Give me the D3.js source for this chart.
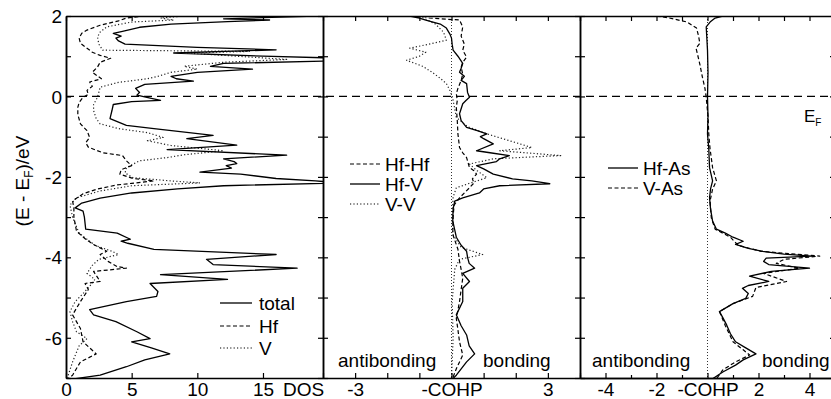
<!DOCTYPE html>
<html><head><meta charset="utf-8">
<script src="https://cdn.jsdelivr.net/npm/d3@7/dist/d3.min.js"></script>
<style>
html,body{margin:0;padding:0;background:#fff;}
svg{display:block;font-family:"Liberation Sans",Arial,sans-serif;}
</style></head><body>
<svg id="c" width="831" height="399"></svg>
<script>
// ---------- DATA ----------
// Panel 1: DOS
const totE = [2.0,1.96,1.93,1.9,1.86,1.8,1.72,1.62,1.57,1.5,1.45,1.38,1.3,1.22,1.16,1.08,1.0,0.95,0.88,0.82,0.75,0.68,0.6,0.5,0.44,0.38,0.3,0.2,0.1,0.03,-0.05,-0.1,-0.13,-0.2,-0.35,-0.55,-0.72,-0.8,-0.97,-1.05,-1.21,-1.32,-1.46,-1.55,-1.62,-1.67,-1.72,-1.78,-1.88,-1.93,-2.04,-2.1,-2.15,-2.22,-2.3,-2.4,-2.53,-2.65,-2.77,-2.85,-3.0,-3.3,-3.4,-3.55,-3.6,-3.65,-3.8,-3.93,-4.05,-4.18,-4.27,-4.43,-4.55,-4.65,-4.85,-4.97,-5.1,-5.3,-5.43,-5.6,-5.85,-6.02,-6.1,-6.25,-6.4,-6.55,-6.72,-6.93,-7.05];
const totDOS = [19,15,12,15.5,12.3,8,5.6,4.3,3.6,4.2,3.8,4.0,4.5,10,16,8.2,15,21,20,12,11,14.2,10,8,8.4,9.7,6,5.3,5.6,5.4,6.5,7.2,5,3.6,3.5,3.35,4.6,6.7,11.2,9.2,13,7.7,16.8,12,12.8,13,12.2,12.6,10.2,13.3,16,19,21,12,8.5,5,2.6,1.2,0.7,1.3,1.4,1.5,3.9,4.9,4.2,4.7,6.7,16,10.7,11.2,17.6,7.2,12.3,6.4,7,6.9,4.6,1.8,2.1,3.8,5.4,6.4,5.0,6.5,7.9,6,4.6,2.6,0];
const hfE = [2.0,1.95,1.88,1.77,1.65,1.57,1.45,1.32,1.2,1.1,1.02,0.95,0.85,0.73,0.6,0.44,0.36,0.25,0.15,0.05,-0.02,-0.15,-0.27,-0.45,-0.68,-0.85,-1.02,-1.15,-1.26,-1.4,-1.47,-1.6,-1.72,-1.82,-1.93,-2.04,-2.1,-2.16,-2.2,-2.3,-2.42,-2.6,-2.77,-3.0,-3.35,-3.55,-3.68,-3.85,-3.93,-4.1,-4.23,-4.27,-4.35,-4.5,-4.6,-4.65,-4.8,-5.1,-5.43,-5.77,-6.1,-6.4,-6.6,-6.93,-7.05];
const hfDOS = [6,4.6,4,2.6,1.6,1.2,1.0,1.1,1.6,2.0,2.6,3.4,2.6,2.4,2.0,2.7,1.8,2.0,1.6,1.7,1.3,1.0,0.9,0.9,1.1,1.6,1.8,1.5,1.7,2.8,4.3,4.6,5.0,4.2,4.1,5.1,6.7,5,3.9,2.4,1.3,0.5,0.6,0.6,0.8,1.5,2.1,3.1,2.6,3.2,3.9,4.6,2.1,2.4,2.6,1.45,1.7,1.1,0.5,1.1,1.3,2.3,1.1,0.5,0];
const vE = [2.0,1.95,1.9,1.85,1.73,1.6,1.48,1.3,1.15,1.12,1.08,1.0,0.92,0.85,0.75,0.68,0.6,0.5,0.44,0.35,0.23,0.1,-0.02,-0.2,-0.35,-0.55,-0.68,-0.8,-0.9,-1.02,-1.1,-1.22,-1.35,-1.45,-1.52,-1.6,-1.77,-1.9,-2.02,-2.1,-2.15,-2.22,-2.35,-2.52,-2.7,-3.0,-3.4,-3.7,-3.85,-3.93,-4.05,-4.2,-4.4,-4.55,-4.72,-4.9,-5.1,-5.35,-5.6,-5.85,-6.02,-6.2,-6.6,-7.0];
const vDOS = [9,7.2,8.2,5,3.1,2.6,2.4,2.5,2.8,14,9.2,13,16.8,12,9,10,8,7,6.2,4,2.6,2.5,2.4,2.1,2.1,2.3,2.6,4,6.2,7.4,6.2,8,12,9,7.7,5.6,4.6,4.5,5.1,8,10.2,5,2.6,0.8,0.3,0.5,1.0,2.2,3.5,4.0,2.5,2.0,1.6,2.2,1.8,1.3,0.7,0.3,0.5,0.8,1.6,1.0,0.5,0.1];

// Panel 2: -COHP Hf-Hf, Hf-V, V-V
const hfvE = [2.0,1.95,1.9,1.8,1.7,1.55,1.45,1.3,1.15,1.0,0.82,0.7,0.6,0.5,0.4,0.32,0.1,-0.02,-0.1,-0.18,-0.43,-0.6,-0.77,-0.85,-0.93,-1.0,-1.05,-1.18,-1.35,-1.4,-1.47,-1.55,-1.62,-1.72,-1.8,-1.93,-2.05,-2.1,-2.17,-2.22,-2.3,-2.4,-2.52,-2.6,-2.8,-3.1,-3.5,-3.7,-3.85,-4.0,-4.15,-4.27,-4.4,-4.6,-4.77,-5.1,-5.43,-5.7,-5.93,-6.2,-6.4,-6.6,-6.93,-7.05];
const hfvCOHP = [-1.3,-1.0,-0.8,-0.35,-0.16,-0.05,0,0.02,0.05,0.2,0.35,0.3,0.25,0.4,0.3,0.47,0.5,0.56,0.45,0.35,0.25,0.3,0.47,0.8,1.1,0.9,1.0,1.3,0.78,1.2,1.8,1.5,1.4,0.78,1.0,1.3,1.9,2.5,3.06,1.5,1.0,0.87,0.35,0.1,0.05,0.04,0.15,0.3,0.47,0.5,0.55,0.72,0.35,0.56,0.35,0.35,0.15,0.3,0.47,0.55,0.72,0.47,0.15,0];
const hfhfE = [2.0,1.95,1.9,1.73,1.5,1.3,1.15,0.98,0.85,0.73,0.55,0.4,0.2,0.07,-0.1,-0.27,-0.6,-0.93,-1.27,-1.4,-1.52,-1.77,-1.85,-1.93,-2.05,-2.15,-2.27,-2.52,-2.7,-3.0,-3.43,-3.8,-4.1,-4.3,-4.52,-4.8,-5.1,-5.52,-5.8,-6.1,-6.43,-6.6,-6.77,-7.0];
const hfhfCOHP = [-0.9,-0.7,0.25,0.35,0.3,0.4,0.35,0.47,0.35,0.3,0.35,0.3,0.2,0.15,0.18,0.15,0.18,0.2,0.25,0.35,0.47,0.56,0.7,0.78,0.65,0.7,0.56,0.25,0.08,0.05,0.04,0.2,0.25,0.3,0.35,0.3,0.25,0.15,0.2,0.25,0.35,0.25,0.15,0.04];
const vvE = [2.0,1.8,1.6,1.4,1.3,1.2,1.1,1.0,0.9,0.75,0.6,0.45,0.32,0.15,-0.02,-0.3,-0.52,-0.75,-0.93,-1.1,-1.27,-1.35,-1.47,-1.55,-1.68,-1.85,-2.02,-2.15,-2.27,-2.5,-3.0,-3.43,-3.75,-3.93,-4.05,-4.3,-5.1,-6.0,-7.0];
const vvCOHP = [-1.0,-0.5,-0.25,-0.16,-0.7,-1.3,-0.8,-1.0,-1.4,-0.9,-0.6,-0.35,-0.16,-0.05,0.03,0.1,0.15,0.5,1.1,1.8,2.5,1.5,3.4,1.3,0.56,0.8,1.1,0.6,0.15,0.05,0.02,0.04,0.3,0.97,0.25,0.1,0.02,0.05,0];

// Panel 3: -COHP Hf-As, V-As
const hfasE = [2.0,1.95,1.85,1.73,1.5,1.15,0.6,-0.02,-0.5,-0.93,-1.3,-1.77,-2.1,-2.3,-2.52,-2.8,-3.1,-3.3,-3.4,-3.5,-3.6,-3.68,-3.78,-3.85,-3.92,-3.97,-4.02,-4.1,-4.18,-4.27,-4.35,-4.47,-4.6,-4.7,-4.77,-4.9,-5.02,-5.15,-5.35,-5.5,-5.68,-5.9,-6.1,-6.25,-6.4,-6.55,-6.68,-6.85,-7.02];
const hfasCOHP = [0.6,0.3,0.1,-0.05,-0.03,0,0.02,0,0.02,0,0.05,0.08,0.2,0.12,0.08,0.12,0.2,0.35,0.7,1.0,1.4,1.1,1.6,2.16,3.0,4.1,2.3,2.2,2.4,4.0,2.5,1.65,2.4,1.6,1.37,1.6,1.5,1.0,0.47,0.6,0.75,0.9,1.1,1.5,1.9,1.4,1.1,0.6,0.2];
const vasE = [2.0,1.95,1.85,1.7,1.5,1.32,1.2,1.07,0.8,0.48,0.2,-0.02,-0.5,-0.93,-1.3,-1.77,-2.1,-2.3,-2.6,-3.02,-3.3,-3.5,-3.7,-3.85,-3.97,-4.05,-4.15,-4.27,-4.4,-4.6,-4.75,-4.97,-5.15,-5.35,-5.7,-6.1,-6.3,-6.43,-6.6,-6.8,-7.02];
const vasCOHP = [-2.0,-1.5,-0.8,-0.43,-0.35,-0.3,-0.45,-0.4,-0.3,-0.2,-0.1,-0.05,0.02,0.05,0.1,0.2,0.35,0.2,0.1,0.15,0.3,0.9,1.2,2.1,4.4,3.0,2.7,3.6,2.2,3.1,1.9,1.77,1.0,0.47,0.7,1.0,1.4,1.65,1.1,0.6,0.35];

// Axis ticks / labels
const yTicksMajor = [-6,-4,-2,0,2];
const yTicksMinor = [-7,-5,-3,-1,1];
const dosTicks = [0,5,10,15];
const cohp1Ticks = [-4,-3,-2,-1,0,1,2,3,4];
const cohp1Labels = {"-3":"-3","0":"-COHP","3":"3"};
const cohp2Ticks = [-4,-2,0,2,4];
const cohp2Minor = [-5,-3,-1,1,3,5];
const cohp2Labels = {"-4":"-4","-2":"-2","0":"-COHP","2":"2","4":"4"};

// ---------- LAYOUT ----------
const svg = d3.select("#c");
const yTop = 16, yBot = 378;
const y = d3.scaleLinear().domain([-7,2]).range([yBot, yTop]);
const panels = [
  {x: d3.scaleLinear().domain([0,19.57]).range([66,323])},
  {x: d3.scaleLinear().domain([-4,4]).range([323,580])},
  {x: d3.scaleLinear().domain([-5,5]).range([580,835])}
];
const FS = 19;
const defs = svg.append("defs");
panels.forEach((p,i)=>{
  const r = p.x.range();
  defs.append("clipPath").attr("id","clip"+i).append("rect")
    .attr("x",r[0]).attr("y",yTop).attr("width",r[1]-r[0]).attr("height",yBot-yTop);
});

function zip(E, V){ return E.map((e,i)=>[V[i], e]); }
function drawLine(pi, E, V, style){
  const p = panels[pi];
  const line = d3.line().x(d=>p.x(d[0])).y(d=>y(d[1]));
  const path = svg.append("path").attr("clip-path","url(#clip"+pi+")")
    .attr("d", line(zip(E,V))).attr("fill","none").attr("stroke","#000")
    .attr("stroke-linejoin","round");
  if(style==="solid") path.attr("stroke-width",1.3);
  if(style==="dashed") path.attr("stroke-width",1.2).attr("stroke-dasharray","4,2.5");
  if(style==="dotted") path.attr("stroke-width",1.2).attr("stroke-dasharray","1.2,2.2").attr("stroke","#222");
}

// zero lines in COHP panels
[1,2].forEach(pi=>{
  const X = panels[pi].x(0);
  svg.append("line").attr("x1",X).attr("x2",X).attr("y1",yTop).attr("y2",yBot)
    .attr("stroke","#333").attr("stroke-width",1).attr("stroke-dasharray","1,2");
});
// Fermi level line
svg.append("line").attr("x1",66).attr("x2",835).attr("y1",y(0)).attr("y2",y(0))
  .attr("stroke","#000").attr("stroke-width",1.3).attr("stroke-dasharray","8,5");

// curves
drawLine(0, vE, vDOS, "dotted");
drawLine(0, hfE, hfDOS, "dashed");
drawLine(0, totE, totDOS, "solid");
drawLine(1, vvE, vvCOHP, "dotted");
drawLine(1, hfhfE, hfhfCOHP, "dashed");
drawLine(1, hfvE, hfvCOHP, "solid");
drawLine(2, vasE, vasCOHP, "dashed");
drawLine(2, hfasE, hfasCOHP, "solid");

// ---------- AXES ----------
function styleAxis(g){
  g.select(".domain").attr("stroke","#000").attr("stroke-width",1.5);
  g.selectAll(".tick line").attr("stroke","#000").attr("stroke-width",1.2);
  g.selectAll(".tick text").attr("font-size",FS).attr("font-family","Liberation Sans, Arial, sans-serif").attr("fill","#000");
}
// Left y axis (labels)
const gl = svg.append("g").attr("transform","translate(66,0)")
  .call(d3.axisLeft(y).tickValues(yTicksMajor).tickSizeInner(-5).tickSizeOuter(0).tickPadding(4).tickFormat(d=>String(d)));
styleAxis(gl);
gl.selectAll(".tick text").attr("x",-4).attr("dy","0.35em");
svg.append("g").attr("transform","translate(66,0)")
  .call(d3.axisLeft(y).tickValues(yTicksMinor).tickSizeInner(-5).tickSizeOuter(0).tickFormat(""))
  .call(styleAxis);
// dividers and right edge: crossing ticks
[323,580,835].forEach(X=>{
  const all = yTicksMajor.concat(yTicksMinor);
  svg.append("g").attr("transform",`translate(${X},0)`)
    .call(d3.axisLeft(y).tickValues(all).tickSizeInner(5).tickSizeOuter(0).tickFormat(""))
    .call(styleAxis);
  svg.append("g").attr("transform",`translate(${X},0)`)
    .call(d3.axisRight(y).tickValues(all).tickSizeInner(5).tickSizeOuter(0).tickFormat(""))
    .call(styleAxis);
});

// bottom axes
function bottomAxis(p, ticks, fmt, minor){
  const g = svg.append("g").attr("transform",`translate(0,${yBot})`)
    .call(d3.axisBottom(p.x).tickValues(ticks).tickSizeInner(-5).tickSizeOuter(0).tickPadding(8).tickFormat(fmt));
  styleAxis(g);
  g.selectAll(".tick text").attr("y",4.5).attr("dy","0.71em");
  if(minor){
    svg.append("g").attr("transform",`translate(0,${yBot})`)
      .call(d3.axisBottom(p.x).tickValues(minor).tickSizeInner(-3).tickSizeOuter(0).tickFormat(""))
      .call(styleAxis);
  }
  const gt = svg.append("g").attr("transform",`translate(0,${yTop})`)
    .call(d3.axisTop(p.x).tickValues(ticks.concat(minor||[])).tickSizeInner(-5).tickSizeOuter(0).tickFormat(""));
  styleAxis(gt);
}
bottomAxis(panels[0], dosTicks, d=>String(d), null);
bottomAxis(panels[1], cohp1Ticks, d=>cohp1Labels[String(d)]||"", null);
bottomAxis(panels[2], cohp2Ticks, d=>cohp2Labels[String(d)]||"", cohp2Minor);

// DOS axis name
svg.append("text").attr("x",283).attr("y",396).attr("font-size",FS).text("DOS");

// Y axis title
const yt = svg.append("text").attr("transform","translate(29,181) rotate(-90)")
  .attr("text-anchor","middle").attr("font-size",FS);
yt.append("tspan").text("(E - E");
yt.append("tspan").attr("font-size",12).attr("dy",4).text("F");
yt.append("tspan").attr("dy",-4).text(")/eV");

// E_F label
const ef = svg.append("text").attr("x",804).attr("y",122).attr("font-size",17);
ef.append("tspan").text("E");
ef.append("tspan").attr("font-size",10).attr("dy",4).text("F");

// ---------- LEGENDS ----------
function legend(x1, x2, tx, yy, label, style){
  const l = svg.append("line").attr("x1",x1).attr("x2",x2).attr("y1",yy).attr("y2",yy)
    .attr("stroke","#000");
  if(style==="solid") l.attr("stroke-width",1.3);
  if(style==="dashed") l.attr("stroke-width",1.2).attr("stroke-dasharray","4,2.5");
  if(style==="dotted") l.attr("stroke-width",1.2).attr("stroke-dasharray","1.2,2.2");
  svg.append("text").attr("x",tx).attr("y",yy+7).attr("font-size",FS).text(label);
}
legend(220,252,259,303,"total","solid");
legend(220,252,259,326,"Hf","dashed");
legend(220,252,259,348,"V","dotted");
legend(350,380,385,164,"Hf-Hf","dashed");
legend(350,380,385,184,"Hf-V","solid");
legend(350,380,385,204,"V-V","dotted");
legend(608,638,643,168,"Hf-As","solid");
legend(608,638,643,188,"V-As","dashed");

// bonding labels
[["antibonding",338,367],["bonding",483,367],["antibonding",592,367],["bonding",762,367]].forEach(d=>{
  svg.append("text").attr("x",d[1]).attr("y",d[2]).attr("font-size",FS).text(d[0]);
});
</script>
</body></html>
